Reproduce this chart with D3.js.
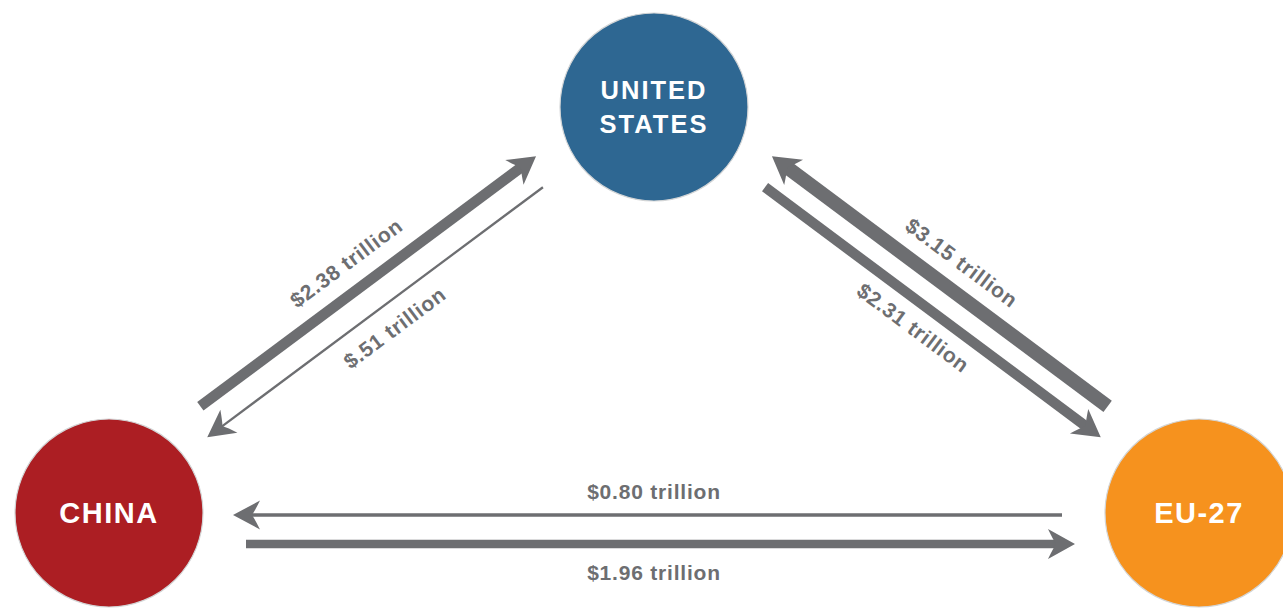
<!DOCTYPE html>
<html>
<head>
<meta charset="utf-8">
<script src="https://cdn.jsdelivr.net/npm/d3@7"></script>
<style>
  body { margin: 0; background: #fff; }
  svg { display: block; }
  .flow-label {
    font-family: "Liberation Sans", Arial, sans-serif;
    font-weight: bold;
    font-size: 21px;
    letter-spacing: 0.8px;
    fill: #6d6e71;
  }
  .node-label {
    font-family: "Liberation Sans", Arial, sans-serif;
    font-weight: bold;
    fill: #fff;
  }
</style>
</head>
<body>
<svg id="chart" width="1283" height="608"></svg>
<script>
// Data
const nodeNames = ["UNITED STATES", "CHINA", "EU-27"];
const nodeLines = [["UNITED", "STATES"], ["CHINA"], ["EU-27"]];
const nodeColors = ["#2e6792", "#ac1e23", "#f6921e"];

const flowSource = ["CHINA", "UNITED STATES", "EU-27", "UNITED STATES", "EU-27", "CHINA"];
const flowTarget = ["UNITED STATES", "CHINA", "UNITED STATES", "EU-27", "CHINA", "EU-27"];
const flowValue = [2.38, 0.51, 3.15, 2.31, 0.8, 1.96];
const flowLabels = [
  "$2.38 trillion",
  "$.51 trillion",
  "$3.15 trillion",
  "$2.31 trillion",
  "$0.80 trillion",
  "$1.96 trillion",
];

function draw() {
  const svg = d3.select("#chart");
  const grey = "#6d6e71";

  // Layout of the triangle
  const layout = {
    "UNITED STATES": [654, 107],
    "CHINA": [109, 513],
    "EU-27": [1199, 513],
  };
  const radius = 94;
  const centroid = [
    d3.mean(nodeNames, (n) => layout[n][0]),
    d3.mean(nodeNames, (n) => layout[n][1]),
  ];

  // Scales
  const widthScale = d3.scaleLinear().domain([0, 3.15]).range([0, 14]);

  // Constants
  const tailGap = 137;
  const tipGap = 124;
  const headLen = 27;
  const headNotch = 8;
  const innerOffset = 2;
  const outerOffset = 31;
  const innerLabel = -22;
  const outerLabel = 59;

  const flows = flowValue.map((v, i) => ({
    source: flowSource[i],
    target: flowTarget[i],
    value: v,
    label: flowLabels[i],
  }));

  const arrows = svg.append("g");
  const labels = svg.append("g");

  flows.forEach((f) => {
    const s = layout[f.source];
    const t = layout[f.target];
    const dx = t[0] - s[0];
    const dy = t[1] - s[1];
    const len = Math.hypot(dx, dy);
    const u = [dx / len, dy / len];

    // normal pointing away from the middle of the triangle
    let n = [-u[1], u[0]];
    const mid = [(s[0] + t[0]) / 2, (s[1] + t[1]) / 2];
    if (n[0] * (mid[0] - centroid[0]) + n[1] * (mid[1] - centroid[1]) < 0) {
      n = [-n[0], -n[1]];
    }

    // the bigger flow of a pair goes outside
    const other = flows.find((g) => g.source === f.target && g.target === f.source);
    const outer = f.value > other.value;
    const off = outer ? outerOffset : innerOffset;

    const start = [s[0] + u[0] * tailGap + n[0] * off, s[1] + u[1] * tailGap + n[1] * off];
    const tip = [t[0] - u[0] * tipGap + n[0] * off, t[1] - u[1] * tipGap + n[1] * off];
    const lineEnd = [tip[0] - u[0] * (headLen - headNotch - 1), tip[1] - u[1] * (headLen - headNotch - 1)];
    const sw = widthScale(f.value);
    const headW = 28 + sw * 0.25;

    arrows
      .append("line")
      .attr("x1", start[0])
      .attr("y1", start[1])
      .attr("x2", lineEnd[0])
      .attr("y2", lineEnd[1])
      .attr("stroke", grey)
      .attr("stroke-width", sw);

    const angle = (Math.atan2(u[1], u[0]) * 180) / Math.PI;
    arrows
      .append("path")
      .attr("transform", `translate(${tip[0]}, ${tip[1]}) rotate(${angle})`)
      .attr(
        "d",
        `M0,0 L${-headLen},${-headW / 2} Q${-headLen + headNotch * 0.6},${-headW / 6} ${-headLen + headNotch},0 ` +
          `Q${-headLen + headNotch * 0.6},${headW / 6} ${-headLen},${headW / 2} Z`
      )
      .attr("fill", grey);

    // Label
    const lo = outer ? outerLabel : innerLabel;
    const lp = [mid[0] + n[0] * lo, mid[1] + n[1] * lo];
    let textAngle = angle;
    if (textAngle > 90) textAngle -= 180;
    if (textAngle <= -90) textAngle += 180;
    labels
      .append("text")
      .attr("class", "flow-label")
      .attr("transform", `translate(${lp[0]}, ${lp[1]}) rotate(${textAngle})`)
      .attr("text-anchor", "middle")
      .attr("dominant-baseline", "central")
      .text(f.label);
  });

  // Circles
  const nodes = svg
    .append("g")
    .selectAll("g")
    .data(nodeNames)
    .join("g")
    .attr("transform", (d) => `translate(${layout[d][0]}, ${layout[d][1]})`);

  nodes
    .append("circle")
    .attr("r", radius)
    .attr("fill", (d, i) => nodeColors[i])
    .attr("stroke", "#d3d5d6")
    .attr("stroke-width", 1.2);

  nodes.each(function (d, i) {
    const lines = nodeLines[i];
    const size = lines.length > 1 ? 25.5 : 29;
    const lh = 34;
    const text = d3
      .select(this)
      .append("text")
      .attr("class", "node-label")
      .attr("text-anchor", "middle")
      .style("font-size", `${size}px`)
      .style("letter-spacing", lines.length > 1 ? "2px" : "1.5px");
    lines.forEach((line, j) => {
      text
        .append("tspan")
        .attr("x", 0)
        .attr("y", (j - (lines.length - 1) / 2) * lh + size * 0.36)
        .text(line);
    });
  });
}

draw();
</script>
</body>
</html>
